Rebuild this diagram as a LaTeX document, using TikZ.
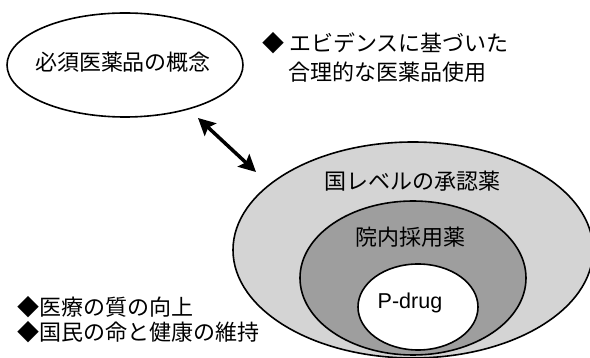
\documentclass[tikz,border=0pt]{standalone}
\usepackage{fontspec}
\setmainfont{Liberation Sans}
\newfontfamily\jp{Noto Sans CJK JP}
\usetikzlibrary{shapes.geometric,arrows.meta}
\begin{document}
\begin{tikzpicture}[x=1pt,y=-1pt,
  ell/.style={draw, ellipse, line width=1.6pt, inner sep=0pt},
  lbl/.style={font=\jp\fontsize{22}{26}\selectfont, inner sep=0pt},
  dblarrow/.style={line width=3.5pt, >={Stealth[length=17pt,width=17pt,inset=3pt]}, <->}
]
\useasboundingbox (0,0) rectangle (590,358);
\fill[white] (0,0) rectangle (590,358);
% left concept ellipse
\node[ell, minimum width=236pt, minimum height=104pt] (concept) at (125,65) {};
\node[lbl] (conceptt) at (123,62) {必須医薬品の概念};
% nested ellipses
\node[ell, fill=black!17, minimum width=360pt, minimum height=216pt] (outer) at (413,250) {};
\node[ell, fill=black!38, minimum width=226pt, minimum height=154pt] (middle) at (413,278) {};
\node[ell, fill=white, minimum width=120pt, minimum height=86pt] (inner) at (418,307) {};
\node[lbl] (nat) at (412,181) {国レベルの承認薬};
\node[lbl] (hosp) at (410,237) {院内採用薬};
\node[font=\fontsize{21.5}{25}\selectfont, inner sep=0pt] (pdrug) at (410,303) {P-drug};
% bullet texts
\node[lbl, anchor=west] (ev1) at (262,43) {◆ エビデンスに基づいた};
\node[lbl, anchor=west] (ev2) at (288,72) {合理的な医薬品使用};
\node[lbl, anchor=west] (q1) at (17,307) {◆医療の質の向上};
\node[lbl, anchor=west] (q2) at (17,332) {◆国民の命と健康の維持};
% double arrow
\coordinate (a1) at (198,118);
\coordinate (a2) at (256,172);
\draw[dblarrow] (a1) -- (a2);
\end{tikzpicture}
\end{document}
